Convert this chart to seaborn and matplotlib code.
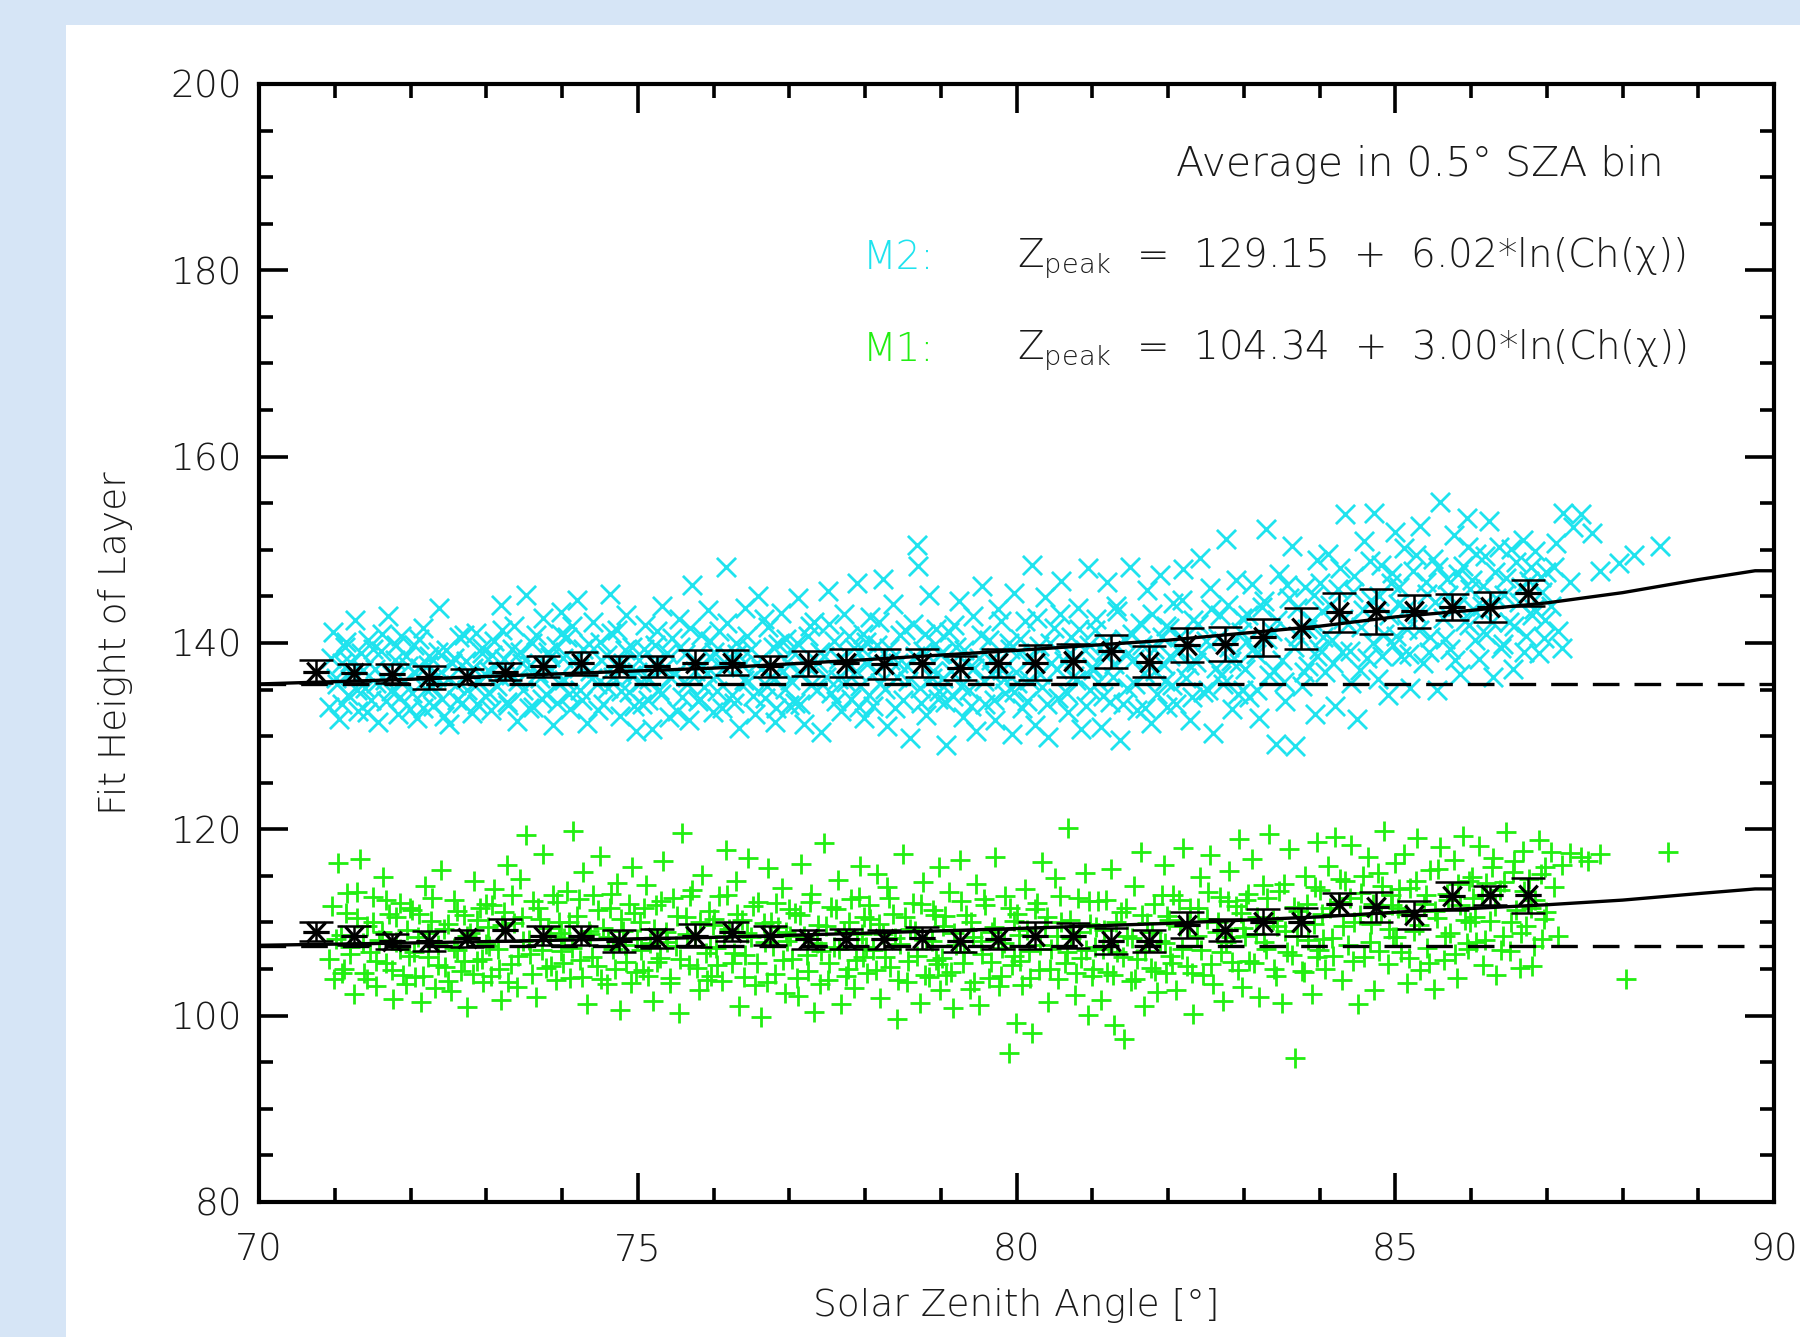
import matplotlib
matplotlib.use("Agg")
import matplotlib.pyplot as plt
import pandas as pd
import seaborn as sns
from matplotlib.patches import Rectangle
from matplotlib.path import Path
from matplotlib.ticker import MultipleLocator

# M2 layer (cyan crosses): (solar zenith angle, fit height)
m2_points = [
    (70.92,133.1),(70.95,138.4),(70.98,141.2),(71.03,135.6),(71.06,131.8),(71.1,137.9),(71.14,139.6),(71.18,134.4),
    (71.22,136.8),(71.27,142.5),(71.31,132.7),(71.35,138.9),(71.4,135.2),(71.44,140.3),(71.48,133.9),(71.53,137.2),
    (71.57,131.5),(71.61,139.1),(71.66,136.0),(71.7,142.9),(71.74,134.8),(71.79,138.2),(71.83,132.4),(71.88,140.8),
    (71.92,135.9),(71.97,137.5),
    (72.02,134.6),(72.05,139.8),(72.09,131.9),(72.13,137.3),(72.17,141.6),(72.21,135.1),(72.25,138.6),(72.3,133.2),
    (72.34,136.4),(72.38,143.8),(72.42,134.0),(72.47,139.2),(72.51,131.3),(72.55,137.8),(72.6,135.5),(72.64,140.6),
    (72.68,133.6),(72.73,138.1),(72.77,136.9),(72.81,132.5),(72.86,141.1),(72.9,135.8),(72.94,138.9),(72.98,134.3),
    (73.02,137.1),(73.06,132.8),(73.1,140.2),(73.14,135.4),(73.19,144.1),(73.23,138.3),(73.27,133.7),(73.32,136.6),
    (73.36,141.8),(73.4,131.6),(73.45,139.0),(73.49,135.0),(73.53,145.2),(73.58,137.6),(73.62,133.1),(73.66,140.9),
    (73.71,136.2),(73.75,142.7),(73.79,134.5),(73.84,138.5),(73.88,131.2),(73.92,139.7),(73.96,135.7),(73.99,143.3),
    (74.03,136.0),(74.07,140.6),(74.11,132.9),(74.15,138.0),(74.2,144.6),(74.24,134.9),(74.28,139.4),(74.33,131.4),
    (74.37,137.0),(74.41,142.2),(74.46,135.6),(74.5,140.1),(74.54,133.5),(74.59,138.7),(74.63,145.3),(74.67,136.3),
    (74.72,141.4),(74.76,132.2),(74.8,137.9),(74.85,143.0),(74.89,134.7),(74.93,139.6),(74.97,130.5),(74.99,136.9),
    (75.02,138.2),(75.06,133.4),(75.1,141.9),(75.15,136.1),(75.19,130.8),(75.23,139.8),(75.28,135.0),(75.32,144.0),
    (75.36,137.4),(75.41,132.1),(75.45,140.5),(75.49,136.7),(75.54,142.6),(75.58,134.2),(75.62,138.8),(75.67,131.7),
    (75.71,146.2),(75.75,137.0),(75.8,133.8),(75.84,140.9),(75.88,135.3),(75.93,143.5),(75.97,138.4),(75.99,132.6),
    (76.03,136.5),(76.07,141.3),(76.11,133.0),(76.16,148.1),(76.2,138.5),(76.24,134.4),(76.29,140.0),(76.33,130.9),
    (76.37,137.6),(76.42,143.7),(76.46,135.9),(76.5,139.3),(76.55,132.4),(76.59,145.0),(76.63,137.2),(76.68,134.1),
    (76.72,141.7),(76.76,136.3),(76.81,131.5),(76.85,139.9),(76.89,143.2),(76.94,135.1),(76.97,138.0),(76.99,133.3),
    (77.03,139.1),(77.07,133.6),(77.12,144.8),(77.16,136.8),(77.2,131.3),(77.25,140.7),(77.29,135.5),(77.33,142.3),
    (77.38,137.9),(77.42,130.4),(77.46,138.6),(77.51,145.6),(77.55,134.6),(77.59,140.2),(77.64,136.1),(77.68,132.7),
    (77.72,143.1),(77.77,137.3),(77.81,134.0),(77.85,139.5),(77.9,146.4),(77.94,135.4),(77.97,141.0),(77.99,131.9),
    (78.03,137.7),(78.07,142.8),(78.11,133.2),(78.16,139.8),(78.2,135.7),(78.24,146.9),(78.29,131.1),(78.33,138.2),
    (78.37,144.2),(78.42,136.4),(78.46,140.9),(78.5,133.9),(78.55,137.5),(78.59,129.8),(78.63,142.0),(78.68,150.5),
    (78.7,148.3),(78.72,135.2),(78.77,139.1),(78.81,132.3),(78.85,145.1),(78.9,137.0),(78.94,141.5),(78.97,134.8),
    (78.99,138.8),
    (79.03,136.2),(79.07,129.1),(79.11,141.2),(79.16,134.3),(79.2,139.6),(79.24,144.5),(79.29,132.0),(79.33,137.8),
    (79.37,135.0),(79.42,142.9),(79.46,130.6),(79.5,138.4),(79.55,146.1),(79.59,133.4),(79.63,140.3),(79.68,136.7),
    (79.72,131.7),(79.76,143.6),(79.81,137.1),(79.85,134.6),(79.9,140.0),(79.94,130.2),(79.97,145.4),(79.99,136.9),
    (80.03,138.9),(80.07,133.0),(80.11,142.4),(80.16,136.0),(80.2,148.4),(80.24,131.2),(80.29,139.7),(80.33,135.3),
    (80.37,144.9),(80.42,129.9),(80.46,137.9),(80.5,141.6),(80.55,134.1),(80.59,146.7),(80.63,138.1),(80.68,132.6),
    (80.72,140.6),(80.76,136.5),(80.81,143.8),(80.85,130.8),(80.9,139.2),(80.94,148.0),(80.97,134.9),(80.99,137.4),
    (81.03,141.4),(81.07,135.8),(81.11,131.0),(81.16,139.0),(81.2,146.5),(81.24,133.7),(81.29,137.7),(81.33,143.4),
    (81.37,129.6),(81.42,140.4),(81.46,135.2),(81.5,148.2),(81.55,138.3),(81.59,132.8),(81.63,142.1),(81.68,136.8),
    (81.72,145.7),(81.77,131.4),(81.81,139.4),(81.85,134.5),(81.9,147.3),(81.94,137.6),(81.97,141.8),(81.99,133.1),
    (82.03,138.6),(82.07,144.3),(82.11,133.5),(82.16,140.8),(82.2,147.9),(82.24,136.2),(82.29,131.7),(82.33,142.5),
    (82.37,138.0),(82.42,149.1),(82.46,134.7),(82.5,140.2),(82.55,145.9),(82.59,130.3),(82.63,137.3),(82.68,143.0),
    (82.72,135.6),(82.77,151.2),(82.81,139.6),(82.85,132.9),(82.9,146.8),(82.94,137.9),(82.97,142.7),(82.99,135.0),
    (83.03,140.1),(83.07,134.2),(83.11,146.3),(83.16,138.8),(83.2,131.9),(83.24,143.9),(83.29,152.2),(83.33,136.6),
    (83.37,141.3),(83.42,129.2),(83.46,147.4),(83.5,138.2),(83.55,133.8),(83.59,144.8),(83.63,150.4),(83.68,128.9),
    (83.72,140.7),(83.77,135.4),(83.81,146.0),(83.85,137.5),(83.9,142.4),(83.94,132.4),(83.97,148.9),(83.99,139.3),
    (84.03,143.4),(84.07,136.9),(84.11,149.6),(84.16,140.3),(84.2,133.2),(84.24,145.8),(84.29,139.0),(84.33,153.8),
    (84.37,142.0),(84.42,135.7),(84.46,147.2),(84.5,131.8),(84.55,141.7),(84.59,150.9),(84.63,138.4),(84.68,144.6),
    (84.72,154.0),(84.77,136.1),(84.81,148.4),(84.85,141.0),(84.9,134.4),(84.94,146.4),(84.97,139.8),(84.99,151.9),
    (85.03,144.2),(85.07,138.6),(85.11,150.2),(85.16,141.5),(85.2,135.2),(85.24,147.7),(85.29,143.1),(85.33,152.6),
    (85.37,137.9),(85.42,145.3),(85.46,140.6),(85.5,149.0),(85.55,134.9),(85.59,155.1),(85.63,142.7),(85.68,146.9),
    (85.72,139.4),(85.77,151.6),(85.81,144.0),(85.85,136.7),(85.9,148.3),(85.94,153.4),(85.97,141.9),(85.99,145.8),
    (86.03,143.6),(86.07,149.5),(86.11,138.3),(86.16,146.1),(86.2,141.0),(86.24,153.1),(86.29,136.4),(86.33,144.8),
    (86.37,150.3),(86.42,139.9),(86.46,147.0),(86.5,142.2),(86.55,137.2),(86.59,148.7),(86.63,144.4),(86.68,151.0),
    (86.72,140.7),(86.77,146.6),(86.81,143.0),(86.85,149.9),(86.9,138.9),(86.94,145.5),(86.97,142.5),(86.99,147.6),
    (87.05,144.0),(87.1,148.2),(87.15,141.3),(87.22,153.9),(87.3,146.5),(87.35,152.4),(87.45,153.8),(87.6,151.8),
    (87.7,147.7),(87.95,148.6),(88.15,149.4),(88.5,150.4),(87.2,139.5),(87.12,150.7),
]

# extra M2 points in the crowded middle of the band
m2_core = [
    (71.01,136.2),(71.09,133.4),(71.15,140.1),(71.2,138.0),(71.29,134.9),(71.37,137.1),(71.43,132.6),(71.5,139.4),
    (71.55,135.7),(71.63,141.0),(71.68,133.8),(71.76,136.6),(71.81,139.8),(71.86,134.2),(71.94,138.6),(71.99,132.9),
    (72.04,136.9),(72.11,140.4),(72.16,133.0),(72.23,137.6),(72.28,135.3),(72.36,139.0),(72.44,132.2),(72.49,136.1),
    (72.57,138.4),(72.62,133.9),(72.7,140.9),(72.75,135.0),(72.83,137.3),(72.88,133.5),(72.95,139.5),(72.99,136.6),
    (73.04,134.6),(73.08,138.7),(73.17,136.5),(73.21,141.4),(73.29,133.3),(73.34,139.4),(73.42,135.9),(73.47,137.9),
    (73.56,133.0),(73.6,140.0),(73.68,136.8),(73.73,134.0),(73.81,139.0),(73.86,137.1),(73.94,133.6),(73.98,141.0),
    (74.01,138.4),(74.09,134.5),(74.13,141.8),(74.22,137.3),(74.26,133.9),(74.35,139.9),(74.39,136.2),(74.48,132.8),
    (74.52,138.2),(74.61,135.2),(74.65,141.1),(74.7,137.7),(74.78,134.8),(74.83,139.2),(74.91,136.6),(74.95,133.2),
    (75.04,135.8),(75.08,139.3),(75.13,133.9),(75.21,137.8),(75.26,141.3),(75.3,134.5),(75.39,138.9),(75.43,136.3),
    (75.52,132.7),(75.56,139.6),(75.65,135.6),(75.69,141.6),(75.78,138.0),(75.82,134.0),(75.91,136.8),(75.95,140.2),
    (76.01,139.0),(76.05,134.8),(76.14,137.4),(76.18,142.1),(76.27,133.6),(76.31,138.8),(76.4,136.0),(76.44,140.7),
    (76.52,134.3),(76.57,137.9),(76.66,142.6),(76.7,135.4),(76.79,139.6),(76.83,133.0),(76.92,137.0),(76.96,140.4),
    (77.01,136.0),(77.1,140.0),(77.14,133.4),(77.23,137.5),(77.27,141.8),(77.36,134.9),(77.4,139.0),(77.49,136.4),
    (77.53,142.0),(77.62,133.8),(77.66,138.3),(77.75,135.8),(77.79,140.8),(77.88,137.0),(77.92,133.1),(77.96,139.3),
    (78.01,140.1),(78.05,134.4),(78.14,137.0),(78.18,142.3),(78.27,135.1),(78.31,139.5),(78.4,133.0),(78.44,137.9),
    (78.53,141.4),(78.57,135.9),(78.66,138.6),(78.74,133.6),(78.79,141.0),(78.88,136.2),(78.92,139.9),(78.96,134.0),
    (79.01,138.9),(79.05,133.7),(79.14,137.0),(79.18,141.9),(79.27,135.4),(79.31,139.2),(79.4,133.2),(79.44,137.3),
    (79.53,140.9),(79.57,135.9),(79.66,138.2),(79.7,133.9),(79.79,142.4),(79.83,136.1),(79.92,139.4),(79.96,134.7),
    (80.01,135.7),(80.05,140.4),(80.14,133.8),(80.18,138.3),(80.27,142.7),(80.31,136.7),(80.4,133.4),(80.44,140.0),
    (80.53,137.2),(80.57,143.1),(80.66,134.6),(80.7,138.9),(80.79,136.0),(80.83,141.5),(80.92,133.2),(80.96,139.8),
    (81.01,137.1),(81.05,142.6),(81.14,134.3),(81.18,140.2),(81.27,136.4),(81.31,144.0),(81.4,133.5),(81.44,138.7),
    (81.53,141.0),(81.57,135.6),(81.66,139.8),(81.7,133.0),(81.79,143.1),(81.83,137.0),(81.92,140.6),(81.96,135.9),
    (82.01,141.6),(82.05,135.5),(82.14,139.1),(82.18,144.6),(82.27,137.6),(82.31,134.2),(82.4,142.0),(82.44,138.9),
    (82.53,135.0),(82.57,143.6),(82.66,140.5),(82.7,136.6),(82.79,144.1),(82.83,138.1),(82.92,134.5),(82.96,141.2),
    (83.01,137.2),(83.05,143.0),(83.14,139.5),(83.18,135.0),(83.27,144.5),(83.31,140.4),(83.4,137.0),(83.44,142.5),
    (83.53,135.8),(83.57,146.2),(83.66,139.6),(83.7,143.7),(83.79,136.9),(83.83,141.5),(83.92,145.1),(83.96,138.6),
    (84.01,146.4),(84.05,140.6),(84.14,144.1),(84.18,137.8),(84.27,148.0),(84.31,142.6),(84.4,139.1),(84.44,145.5),
    (84.53,137.1),(84.57,143.5),(84.66,148.8),(84.7,140.0),(84.79,145.0),(84.83,138.6),(84.92,143.0),(84.96,147.5),
    (85.01,140.8),(85.05,146.0),(85.14,143.6),(85.18,138.8),(85.27,149.4),(85.31,141.4),(85.4,146.5),(85.44,139.0),
    (85.53,144.4),(85.57,148.2),(85.66,140.4),(85.7,145.1),(85.79,138.2),(85.83,147.4),(85.92,142.4),(85.96,150.3),
    (86.01,146.8),(86.05,140.3),(86.14,144.0),(86.18,149.3),(86.27,142.3),(86.31,147.6),(86.4,139.5),(86.44,145.2),
    (86.53,150.1),(86.57,141.8),(86.66,146.0),(86.7,139.0),(86.79,148.2),(86.83,143.6),(86.92,147.1),(86.96,140.5),
]

# M1 layer (green pluses)
m1_points = [
    (70.93,106.1),(70.96,111.8),(70.99,103.9),(71.04,116.4),(71.08,108.7),(71.12,105.0),(71.16,113.2),(71.2,107.4),
    (71.25,102.3),(71.29,110.5),(71.33,116.8),(71.38,104.6),(71.42,109.6),(71.46,106.8),(71.51,112.7),(71.55,103.2),
    (71.59,108.1),(71.64,114.9),(71.68,105.7),(71.72,110.9),(71.77,101.8),(71.81,107.9),(71.86,112.1),(71.9,104.4),
    (71.95,109.2),(71.98,106.4),
    (72.02,111.3),(72.06,104.1),(72.1,108.4),(72.14,101.5),(72.19,113.9),(72.23,106.3),(72.27,110.2),(72.32,103.0),
    (72.36,107.6),(72.4,115.6),(72.45,105.2),(72.49,109.8),(72.53,102.6),(72.58,112.4),(72.62,107.0),(72.66,104.8),
    (72.71,110.8),(72.75,100.9),(72.79,108.9),(72.84,114.4),(72.88,105.9),(72.92,111.6),(72.96,103.6),(72.99,107.7),
    (73.02,109.5),(73.06,104.3),(73.1,113.6),(73.15,107.2),(73.19,101.7),(73.23,111.1),(73.27,116.2),(73.32,105.5),
    (73.36,109.9),(73.4,103.1),(73.45,114.7),(73.49,108.0),(73.53,119.4),(73.58,106.6),(73.62,112.3),(73.66,102.0),
    (73.71,110.4),(73.75,117.3),(73.79,105.1),(73.84,108.6),(73.88,113.0),(73.92,103.8),(73.96,110.1),(73.99,106.9),
    (74.03,108.3),(74.07,113.4),(74.11,104.0),(74.15,119.8),(74.2,110.7),(74.24,106.0),(74.28,115.4),(74.33,101.2),
    (74.37,108.8),(74.41,112.9),(74.46,105.3),(74.5,117.1),(74.54,109.4),(74.59,103.4),(74.63,111.5),(74.67,107.1),
    (74.72,114.2),(74.76,100.6),(74.8,109.1),(74.85,105.8),(74.89,112.0),(74.93,116.0),(74.97,104.7),(74.99,108.2),
    (75.03,110.0),(75.07,104.9),(75.11,114.0),(75.16,107.8),(75.2,101.6),(75.24,111.9),(75.29,106.2),(75.33,116.6),
    (75.37,109.0),(75.42,103.5),(75.46,112.6),(75.5,107.5),(75.55,100.3),(75.59,119.6),(75.63,110.6),(75.68,105.4),
    (75.72,113.5),(75.76,108.5),(75.81,102.8),(75.85,115.1),(75.9,106.7),(75.94,111.2),(75.97,104.2),(75.99,109.7),
    (76.03,107.3),(76.07,112.8),(76.11,103.7),(76.16,117.8),(76.2,109.3),(76.24,105.6),(76.29,114.5),(76.33,101.0),
    (76.37,110.3),(76.42,106.5),(76.46,116.9),(76.5,108.4),(76.55,103.3),(76.59,112.2),(76.63,99.9),(76.68,107.9),
    (76.72,115.8),(76.76,110.1),(76.81,104.5),(76.85,109.5),(76.9,113.7),(76.94,102.4),(76.97,108.0),(76.99,111.4),
    (77.03,106.1),(77.07,111.0),(77.12,102.1),(77.16,116.3),(77.2,108.6),(77.25,104.8),(77.29,113.1),(77.33,100.4),
    (77.38,109.7),(77.42,106.9),(77.46,118.5),(77.51,103.8),(77.55,111.7),(77.59,107.4),(77.64,114.6),(77.68,101.3),
    (77.72,109.1),(77.77,105.0),(77.81,112.5),(77.85,103.0),(77.9,108.2),(77.94,116.1),(77.97,106.3),(77.99,110.6),
    (78.03,104.6),(78.07,110.4),(78.11,107.0),(78.16,115.2),(78.2,101.9),(78.24,108.8),(78.29,113.8),(78.33,105.2),
    (78.37,110.9),(78.42,99.6),(78.46,107.7),(78.5,117.4),(78.55,103.6),(78.59,109.3),(78.63,112.1),(78.68,106.4),
    (78.72,101.4),(78.77,114.3),(78.81,108.1),(78.85,104.1),(78.9,111.3),(78.94,106.0),(78.97,115.9),(78.99,102.7),
    (79.03,109.6),(79.07,104.4),(79.11,113.3),(79.16,100.8),(79.2,107.6),(79.25,116.7),(79.29,105.7),(79.33,110.8),
    (79.38,102.9),(79.42,108.4),(79.46,114.1),(79.51,101.1),(79.55,106.6),(79.59,111.9),(79.64,104.0),(79.68,109.0),
    (79.72,117.0),(79.77,103.2),(79.81,107.3),(79.85,112.8),(79.9,96.0),(79.94,105.4),(79.97,110.2),(79.99,99.2),
    (80.03,108.7),(80.07,103.3),(80.11,113.6),(80.16,106.9),(80.2,98.1),(80.25,111.4),(80.29,104.9),(80.33,116.5),
    (80.38,109.5),(80.42,101.5),(80.46,107.1),(80.51,114.8),(80.55,103.9),(80.59,110.0),(80.64,105.6),(80.68,120.1),
    (80.72,108.3),(80.77,102.2),(80.81,112.6),(80.85,106.2),(80.9,115.3),(80.94,100.1),(80.97,109.8),(80.99,104.3),
    (81.03,107.4),(81.07,112.3),(81.11,101.7),(81.16,109.2),(81.2,104.7),(81.25,115.7),(81.29,99.0),(81.33,106.8),
    (81.38,111.1),(81.42,97.5),(81.46,108.5),(81.51,103.7),(81.55,113.9),(81.59,106.1),(81.64,117.6),(81.68,101.0),
    (81.72,109.9),(81.77,105.1),(81.81,112.0),(81.85,102.5),(81.9,108.0),(81.94,116.2),(81.97,104.6),(81.99,110.7),
    (82.03,106.4),(82.07,113.0),(82.11,102.8),(82.16,109.6),(82.2,118.0),(82.25,105.3),(82.29,111.5),(82.33,100.2),
    (82.38,108.6),(82.42,114.9),(82.46,104.4),(82.51,110.4),(82.55,117.2),(82.59,103.4),(82.64,109.0),(82.68,112.7),
    (82.72,101.6),(82.77,107.9),(82.81,115.5),(82.85,105.8),(82.9,111.8),(82.94,119.0),(82.97,103.1),(82.99,109.4),
    (83.03,112.4),(83.07,105.9),(83.11,116.8),(83.16,108.8),(83.2,102.0),(83.25,114.0),(83.29,107.2),(83.33,119.5),
    (83.38,110.3),(83.42,104.2),(83.46,113.4),(83.51,101.4),(83.55,109.1),(83.59,117.9),(83.64,106.5),(83.68,95.5),
    (83.72,111.2),(83.77,104.8),(83.81,115.0),(83.85,108.1),(83.9,102.3),(83.94,113.8),(83.97,118.6),(83.99,107.0),
    (84.03,110.9),(84.07,105.0),(84.11,116.1),(84.16,108.3),(84.2,119.2),(84.25,112.2),(84.29,103.8),(84.33,114.5),
    (84.38,107.6),(84.42,118.3),(84.46,110.1),(84.51,101.2),(84.55,113.2),(84.59,106.3),(84.64,117.0),(84.68,109.8),
    (84.72,102.7),(84.77,115.3),(84.81,111.0),(84.85,119.8),(84.9,105.5),(84.94,112.9),(84.97,108.4),(84.99,116.4),
    (85.03,111.6),(85.07,106.8),(85.11,117.4),(85.16,103.5),(85.2,113.7),(85.25,109.1),(85.29,119.1),(85.33,104.9),
    (85.38,112.0),(85.42,107.3),(85.46,115.6),(85.51,102.9),(85.55,110.5),(85.59,118.1),(85.64,106.0),(85.68,113.1),
    (85.72,108.9),(85.77,116.7),(85.81,104.0),(85.85,111.9),(85.9,119.3),(85.94,107.8),(85.97,114.4),(85.99,110.0),
    (86.03,112.6),(86.07,107.9),(86.11,118.2),(86.16,105.4),(86.2,114.2),(86.25,110.2),(86.29,116.9),(86.33,104.4),
    (86.38,113.5),(86.42,108.6),(86.46,119.7),(86.51,106.9),(86.55,115.4),(86.59,111.3),(86.64,105.1),(86.68,117.7),
    (86.72,109.6),(86.77,114.7),(86.81,105.3),(86.85,112.4),(86.9,118.8),(86.94,108.2),(86.97,115.9),(86.99,111.1),
    (87.05,117.6),(87.1,113.8),(87.2,116.2),(87.3,117.5),(87.45,117.0),(87.55,116.6),(87.7,117.3),(88.05,103.9),
    (88.6,117.6),(87.15,108.5),
]

# extra M1 points in the crowded middle of the band
m1_core = [
    (71.01,108.2),(71.09,104.6),(71.15,111.0),(71.2,106.6),(71.29,113.3),(71.37,107.8),(71.43,103.9),(71.5,110.1),
    (71.55,105.9),(71.63,109.0),(71.68,112.4),(71.76,104.9),(71.81,110.6),(71.86,107.1),(71.94,103.4),(71.99,111.6),
    (72.04,106.8),(72.11,110.9),(72.16,104.2),(72.23,108.9),(72.28,112.6),(72.36,105.4),(72.44,109.3),(72.49,103.7),
    (72.57,107.3),(72.62,111.2),(72.7,105.9),(72.75,108.6),(72.83,104.5),(72.88,110.3),(72.95,106.1),(72.99,112.0),
    (73.04,107.5),(73.08,111.9),(73.17,105.0),(73.21,109.7),(73.29,103.6),(73.34,112.9),(73.42,106.4),(73.47,110.6),
    (73.56,108.1),(73.6,104.5),(73.68,111.5),(73.73,107.0),(73.81,109.4),(73.86,105.3),(73.94,112.2),(73.98,108.9),
    (74.01,105.6),(74.09,110.0),(74.13,107.3),(74.22,112.5),(74.26,104.1),(74.35,109.1),(74.39,106.3),(74.48,111.3),
    (74.52,103.9),(74.61,108.4),(74.65,113.1),(74.7,105.0),(74.78,110.4),(74.83,107.6),(74.91,103.5),(74.95,111.0),
    (75.04,107.0),(75.08,111.6),(75.13,104.3),(75.21,109.3),(75.26,105.8),(75.3,112.3),(75.39,107.9),(75.43,104.0),
    (75.52,110.7),(75.56,106.1),(75.65,108.8),(75.69,112.8),(75.78,105.1),(75.82,110.1),(75.91,103.8),(75.95,107.4),
    (76.01,110.4),(76.05,105.4),(76.14,108.6),(76.18,112.9),(76.27,106.7),(76.31,110.9),(76.4,104.1),(76.44,108.9),
    (76.52,111.8),(76.57,105.7),(76.66,109.9),(76.7,103.6),(76.79,107.5),(76.83,112.1),(76.92,106.0),(76.96,109.0),
    (77.01,108.5),(77.1,104.0),(77.14,110.8),(77.23,106.5),(77.27,112.2),(77.36,107.8),(77.4,103.4),(77.49,109.6),
    (77.53,105.6),(77.62,111.4),(77.66,107.2),(77.75,104.2),(77.79,110.0),(77.88,106.0),(77.92,112.7),(77.96,108.8),
    (78.01,107.4),(78.05,111.9),(78.14,104.9),(78.18,109.8),(78.27,106.3),(78.31,112.6),(78.4,108.3),(78.44,103.8),
    (78.53,110.6),(78.57,105.9),(78.66,109.1),(78.74,112.0),(78.79,104.4),(78.88,108.0),(78.92,110.8),(78.96,105.5),
    (79.01,106.2),(79.05,110.7),(79.14,104.7),(79.18,108.9),(79.27,112.3),(79.31,106.8),(79.4,110.0),(79.44,103.6),
    (79.53,108.0),(79.57,112.5),(79.66,105.8),(79.7,109.5),(79.79,104.3),(79.83,107.8),(79.92,111.6),(79.96,106.4),
    (80.01,110.9),(80.05,105.9),(80.14,109.2),(80.18,104.0),(80.27,112.1),(80.31,107.6),(80.4,110.6),(80.44,105.0),
    (80.53,108.5),(80.57,112.8),(80.66,106.8),(80.7,110.3),(80.79,104.6),(80.83,109.0),(80.92,107.0),(80.96,112.3),
    (81.01,105.0),(81.05,109.5),(81.14,107.1),(81.18,112.4),(81.27,104.4),(81.31,110.0),(81.4,106.3),(81.44,111.6),
    (81.53,108.3),(81.57,103.9),(81.66,110.8),(81.7,106.9),(81.79,109.0),(81.83,104.8),(81.92,112.9),(81.96,107.8),
    (82.01,110.3),(82.05,105.6),(82.14,112.4),(82.18,107.2),(82.27,109.7),(82.31,104.6),(82.4,111.5),(82.44,107.0),
    (82.53,113.3),(82.57,105.5),(82.66,110.1),(82.7,106.8),(82.79,112.3),(82.83,108.4),(82.92,104.9),(82.96,111.0),
    (83.01,108.6),(83.05,113.1),(83.14,105.7),(83.18,110.6),(83.27,107.9),(83.31,112.6),(83.4,105.0),(83.44,109.6),
    (83.53,114.1),(83.57,106.8),(83.66,111.7),(83.7,108.5),(83.79,104.7),(83.83,112.0),(83.92,109.8),(83.96,106.3),
    (84.01,113.5),(84.05,108.2),(84.14,111.5),(84.18,106.4),(84.27,114.7),(84.31,109.6),(84.4,112.6),(84.44,105.9),
    (84.53,110.8),(84.57,115.0),(84.66,107.9),(84.7,112.0),(84.79,106.9),(84.83,113.9),(84.92,109.3),(84.96,111.9),
    (85.01,108.4),(85.05,113.6),(85.14,110.9),(85.18,106.2),(85.27,114.4),(85.31,109.7),(85.4,112.9),(85.44,105.7),
    (85.53,111.2),(85.57,115.7),(85.66,108.6),(85.7,112.4),(85.79,106.6),(85.83,114.1),(85.92,110.3),(85.96,107.1),
    (86.01,114.9),(86.05,110.6),(86.14,113.0),(86.18,108.1),(86.27,116.0),(86.31,111.8),(86.4,107.0),(86.44,114.3),
    (86.53,110.0),(86.57,116.6),(86.66,108.9),(86.7,113.4),(86.79,111.5),(86.83,107.5),(86.92,115.2),(86.96,110.4),
]

# averages in 0.5 deg SZA bins
bin_sza = [70.75, 71.25, 71.75, 72.25, 72.75, 73.25, 73.75, 74.25, 74.75, 75.25, 75.75,
           76.25, 76.75, 77.25, 77.75, 78.25, 78.75, 79.25, 79.75, 80.25, 80.75, 81.25,
           81.75, 82.25, 82.75, 83.25, 83.75, 84.25, 84.75, 85.25, 85.75, 86.25, 86.75]
m2_mean = [136.9, 136.8, 136.7, 136.3, 136.4, 136.9, 137.5, 137.8, 137.5, 137.5, 137.8,
           137.9, 137.5, 137.8, 137.8, 137.7, 137.9, 137.3, 137.8, 137.9, 138.1, 139.1,
           138.0, 139.8, 139.9, 140.6, 141.6, 143.3, 143.4, 143.4, 143.9, 143.9, 145.4]
m2_err = [1.25, 0.9, 1.0, 1.2, 0.8, 0.9, 1.1, 1.2, 1.1, 1.1, 1.4,
          1.3, 1.1, 1.3, 1.5, 1.6, 1.5, 1.3, 1.5, 1.9, 1.8, 1.8,
          1.7, 1.8, 1.8, 2.0, 2.2, 2.1, 2.4, 1.8, 1.4, 1.6, 1.4]
m1_mean = [109.0, 108.6, 108.0, 108.0, 108.3, 109.2, 108.6, 108.6, 108.0, 108.3, 108.6,
           109.0, 108.6, 108.2, 108.2, 108.2, 108.3, 108.0, 108.2, 108.6, 108.6, 108.0,
           108.0, 109.7, 109.2, 110.1, 110.1, 112.0, 111.7, 110.8, 112.8, 112.9, 112.9]
m1_err = [1.0, 1.0, 0.8, 1.1, 0.9, 1.2, 1.0, 1.0, 1.2, 1.0, 1.2,
          1.0, 1.0, 1.0, 1.1, 1.0, 1.2, 1.2, 1.1, 1.5, 1.3, 1.4,
          1.2, 1.4, 1.2, 1.3, 1.5, 1.2, 1.6, 1.5, 1.5, 1.0, 1.9]

# Chapman fits
fit_sza = [70.0, 72.0, 74.0, 76.0, 78.0, 80.0, 82.0, 84.0, 85.0, 86.0, 87.0, 88.0, 89.0, 89.75, 90.0]
m2_fit = [135.6, 136.1, 136.7, 137.3, 138.2, 139.2, 140.3, 141.8, 142.8, 143.5, 144.3, 145.4, 146.8, 147.75, 147.75]
m1_fit = [107.55, 107.8, 108.1, 108.4, 108.85, 109.35, 109.9, 110.6, 111.1, 111.5, 111.9, 112.4, 113.1, 113.6, 113.6]
m2_ref = 135.55
m1_ref = 107.5

cyan = "#1fe3ee"
green = "#22ee11"
ink = "#1a1a1a"

sns.set_style("ticks")
plt.rcParams["font.family"] = ["DejaVu Sans"]
plt.rcParams["font.weight"] = "light"
plt.rcParams["axes.labelweight"] = "light"
plt.rcParams["mathtext.default"] = "regular"

fig = plt.figure(figsize=(18, 13.37), dpi=100, facecolor="#d6e5f6")
fig.patches.append(Rectangle((66 / 1800, 0), 1, 1 - 25 / 1337, transform=fig.transFigure,
                             facecolor="white", edgecolor="none", zorder=-10))
ax = fig.add_axes([0.1439, 0.101, 0.8417, 0.8362])
ax.set_facecolor("white")

m2 = pd.DataFrame(m2_points + m2_core, columns=["sza", "height"])
m1 = pd.DataFrame(m1_points + m1_core, columns=["sza", "height"])
sns.scatterplot(data=m2, x="sza", y="height", marker="x", color=cyan, s=190,
                linewidth=2.0, ax=ax, zorder=2, legend=False)
sns.scatterplot(data=m1, x="sza", y="height", marker="+", color=green, s=210,
                linewidth=2.0, ax=ax, zorder=2, legend=False)

for fit, ref in [(m2_fit, m2_ref), (m1_fit, m1_ref)]:
    ax.plot(fit_sza, fit, color="black", lw=2.4, zorder=3)
    ax.axhline(ref, color="black", lw=2.4, ls=(0, (8, 4.5)), zorder=3)

# IDL-style asterisk: horizontal bar plus two diagonals
ast = Path([(-1, 0), (1, 0), (-0.7, -0.75), (0.7, 0.75), (-0.7, 0.75), (0.7, -0.75)],
           [Path.MOVETO, Path.LINETO, Path.MOVETO, Path.LINETO, Path.MOVETO, Path.LINETO])
for mean, err in [(m2_mean, m2_err), (m1_mean, m1_err)]:
    ax.errorbar(bin_sza, mean, yerr=err, fmt="none", ecolor="black", elinewidth=1.8,
                capsize=12, capthick=1.8, zorder=4)
    ax.plot(bin_sza, mean, ls="none", marker=ast, markersize=19, markeredgewidth=2.3,
            color="black", zorder=5)

ax.set_xlim(70, 90)
ax.set_ylim(80, 200)
ax.xaxis.set_major_locator(MultipleLocator(5))
ax.xaxis.set_minor_locator(MultipleLocator(1))
ax.yaxis.set_major_locator(MultipleLocator(20))
ax.yaxis.set_minor_locator(MultipleLocator(5))
ax.tick_params(which="both", direction="in", top=True, right=True, color="black",
               labelsize=27, width=2.6, labelcolor=ink)
ax.tick_params(which="major", length=21)
ax.tick_params(which="minor", length=10)
ax.tick_params(axis="x", pad=22)
ax.tick_params(axis="y", pad=12)
for sp in ax.spines.values():
    sp.set_linewidth(3)
    sp.set_color("black")

ax.set_xlabel("Solar Zenith Angle [°]", fontsize=27, color=ink, fontweight="light")
ax.set_ylabel("Fit Height of Layer", fontsize=27, color=ink, fontweight="light")
ax.xaxis.set_label_coords(0.5, -0.077)
ax.yaxis.set_label_coords(-0.083, 0.5)

txt = dict(transform=ax.transAxes, fontsize=28, va="center")
ax.text(0.7663, 0.9284, "Average in 0.5° SZA bin", ha="center", color=ink,
        fontsize=29.5, transform=ax.transAxes, va="center")
ax.text(0.3987, 0.8444, "M2:", ha="left", color=cyan, **txt)
ax.text(0.3987, 0.7621, "M1:", ha="left", color=green, **txt)
ax.text(0.5003, 0.8444, "Z$_{peak}$  =  129.15  +  6.02*ln(Ch(χ))", ha="left", color=ink, **txt)
ax.text(0.5003, 0.7621, "Z$_{peak}$  =  104.34  +  3.00*ln(Ch(χ))", ha="left", color=ink, **txt)

fig.savefig("out.png", dpi=100, facecolor=fig.get_facecolor())
